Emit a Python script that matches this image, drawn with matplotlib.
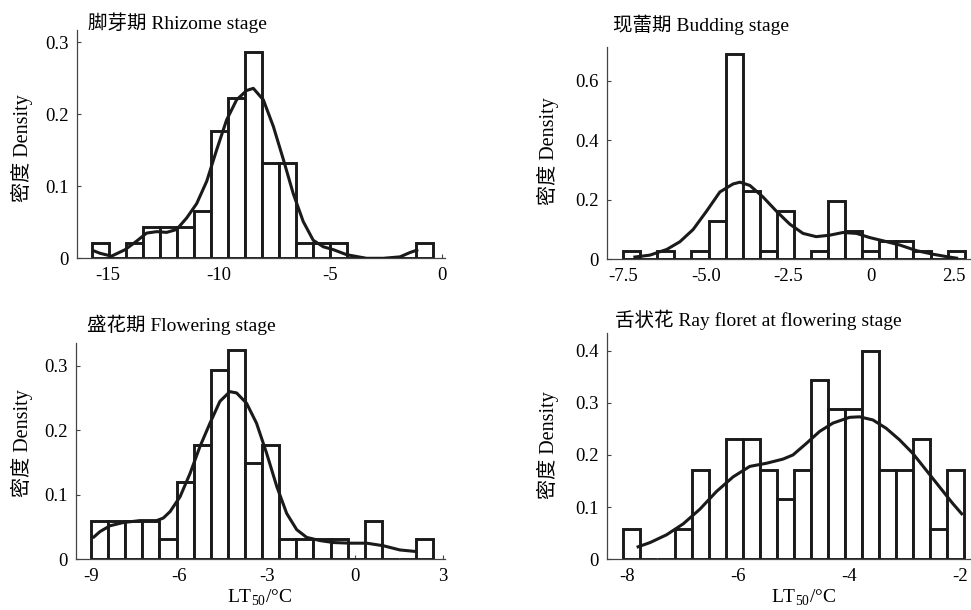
import numpy as np
import matplotlib.pyplot as plt

plt.rcParams['font.family'] = ['Liberation Serif', 'Noto Sans CJK SC']
plt.rcParams['axes.unicode_minus'] = False

# ---- 脚芽期 Rhizome stage
rh_edges = (-15.70, -0.40)
rh_dens = [0.021, 0, 0.021, 0.043, 0.043, 0.043, 0.066, 0.177, 0.222, 0.287,
           0.132, 0.132, 0.021, 0.021, 0.021, 0, 0, 0, 0, 0.021]
rh_kx = [-15.66, -15.33, -14.81, -14.2, -13.68, -13.24, -12.79, -12.34, -11.89, -11.44,
         -10.99, -10.54, -10.09, -9.65, -9.2, -8.75, -8.45, -8.0, -7.55, -7.1,
         -6.66, -6.21, -5.76, -5.31, -4.86, -4.26, -3.37, -2.62, -1.87, -1.42, -1.05]
rh_ky = [0.011, 0.007, 0.003, 0.012, 0.024, 0.035, 0.037, 0.036, 0.040, 0.056,
         0.076, 0.107, 0.151, 0.192, 0.220, 0.233, 0.236, 0.220, 0.183, 0.137,
         0.090, 0.051, 0.025, 0.016, 0.012, 0.005, 0.0, 0.0, 0.002, 0.008, 0.012]

# ---- 现蕾期 Budding stage
bu_edges = (-7.51, 2.84)
bu_dens = [0.029, 0, 0.029, 0, 0.029, 0.129, 0.69, 0.229, 0.029, 0.162,
           0, 0.029, 0.195, 0.096, 0.029, 0.062, 0.062, 0.029, 0, 0.029]
bu_kx = [-7.20, -6.70, -6.19, -5.79, -5.39, -4.98, -4.58, -4.18, -3.97, -3.67,
         -3.27, -2.87, -2.46, -2.06, -1.66, -1.25, -0.85, -0.44, -0.04, 0.37,
         0.87, 1.38, 1.88, 2.29, 2.64]
bu_ky = [0.007, 0.014, 0.033, 0.059, 0.100, 0.162, 0.226, 0.253, 0.259, 0.248,
         0.209, 0.162, 0.118, 0.087, 0.076, 0.081, 0.090, 0.087, 0.073, 0.062,
         0.048, 0.029, 0.017, 0.009, 0.003]

# ---- 盛花期 Flowering stage
fl_edges = (-9.01, 2.67)
fl_dens = [0.0595, 0.0595, 0.0595, 0.0595, 0.031, 0.1195, 0.178, 0.294, 0.324, 0.149,
           0.177, 0.031, 0.031, 0.031, 0.031, 0, 0.0595, 0, 0, 0.031]
fl_kx = [-8.95, -8.70, -8.36, -7.91, -7.34, -6.77, -6.54, -6.31, -5.97, -5.63,
         -5.29, -4.95, -4.61, -4.27, -4.04, -3.70, -3.36, -3.02, -2.67, -2.33,
         -1.99, -1.65, -1.19, -0.74, -0.17, 0.40, 0.97, 1.53, 2.10]
fl_ky = [0.033, 0.043, 0.052, 0.057, 0.060, 0.060, 0.064, 0.074, 0.097, 0.133,
         0.175, 0.211, 0.245, 0.260, 0.258, 0.242, 0.211, 0.165, 0.113, 0.071,
         0.046, 0.034, 0.029, 0.026, 0.025, 0.025, 0.021, 0.0145, 0.012]

# ---- 舌状花 Ray floret at flowering stage
ra_edges = (-8.07, -1.92)
ra_dens = [0.058, 0, 0, 0.058, 0.171, 0, 0.231, 0.231, 0.171, 0.115,
           0.171, 0.344, 0.2875, 0.2875, 0.40, 0.171, 0.171, 0.231, 0.058, 0.171]
ra_kx = [-7.83, -7.59, -7.29, -6.99, -6.69, -6.39, -6.09, -5.79, -5.49, -5.19,
         -5.01, -4.77, -4.53, -4.29, -3.99, -3.81, -3.57, -3.33, -3.09, -2.85,
         -2.61, -2.37, -2.13, -1.95]
ra_ky = [0.023, 0.032, 0.047, 0.068, 0.096, 0.130, 0.158, 0.178, 0.184, 0.192,
         0.200, 0.222, 0.245, 0.261, 0.272, 0.273, 0.267, 0.251, 0.229, 0.203,
         0.171, 0.139, 0.107, 0.085]

W, H = 971, 610
fig = plt.figure(figsize=(W / 100, H / 100), dpi=100)


def px_rect(l, t, r, b):
    return [l / W, 1 - b / H, (r - l) / W, (b - t) / H]


def panel(rect, edges, dens, kx, ky, xlim, ylim, xt, xtl, yt, ytl):
    ax = fig.add_axes(rect)
    e = np.linspace(edges[0], edges[1], len(dens) + 1)
    ax.bar(e[:-1], dens, width=np.diff(e), align='edge', color='white',
           edgecolor='#1a1a1a', linewidth=2.1, zorder=2)
    ax.plot(kx, ky, color='#1a1a1a', lw=2.2, zorder=3,
            solid_joinstyle='round', solid_capstyle='butt')
    ax.set_xlim(*xlim)
    ax.set_ylim(*ylim)
    ax.set_xticks(xt)
    ax.set_xticklabels(xtl)
    ax.set_yticks(yt)
    ax.set_yticklabels(ytl)
    for s in ['top', 'right']:
        ax.spines[s].set_visible(False)
    for s in ['left', 'bottom']:
        ax.spines[s].set_color('#444444')
        ax.spines[s].set_linewidth(0.9)
    ax.tick_params(direction='in', length=3, width=0.8, color='#444444',
                   labelsize=13.5, pad=6)
    ax.patch.set_alpha(0)
    return ax


panel(px_rect(77, 30, 445, 258.3), rh_edges, rh_dens, rh_kx, rh_ky,
      (-16.36, 0.15), (0, 0.317),
      [-15, -10, -5, 0], ['-15', '-10', '-5', '0'],
      [0, 0.1, 0.2, 0.3], ['0', '0.1', '0.2', '0.3'])
panel(px_rect(607.3, 46.7, 970, 259.3), bu_edges, bu_dens, bu_kx, bu_ky,
      (-7.99, 3.0), (0, 0.714),
      [-7.5, -5.0, -2.5, 0, 2.5], ['-7.5', '-5.0', '-2.5', '0', '2.5'],
      [0, 0.2, 0.4, 0.6], ['0', '0.2', '0.4', '0.6'])
panel(px_rect(76, 343.3, 445, 559.3), fl_edges, fl_dens, fl_kx, fl_ky,
      (-9.52, 3.07), (0, 0.335),
      [-9, -6, -3, 0, 3], ['-9', '-6', '-3', '0', '3'],
      [0, 0.1, 0.2, 0.3], ['0', '0.1', '0.2', '0.3'])
panel(px_rect(607.3, 333.3, 971, 559.3), ra_edges, ra_dens, ra_kx, ra_ky,
      (-8.36, -1.80), (0, 0.433),
      [-8, -6, -4, -2], ['-8', '-6', '-4', '-2'],
      [0, 0.1, 0.2, 0.3, 0.4], ['0', '0.1', '0.2', '0.3', '0.4'])

titles = [(88, 23, '脚芽期 Rhizome stage'),
          (613, 25, '现蕾期 Budding stage'),
          (87, 325, '盛花期 Flowering stage'),
          (615, 320, '舌状花 Ray floret at flowering stage')]
for x, y, t in titles:
    fig.text(x / W, 1 - y / H, t, ha='left', va='center', fontsize=14)

for x, y in [(22, 148), (548, 151), (22, 443), (548, 445)]:
    fig.text(x / W, 1 - y / H, '密度 Density', rotation=90,
             ha='center', va='center', fontsize=14.5)

for x in [260, 804]:
    fig.text(x / W, 1 - 598 / H, 'LT$_{\\mathregular{50}}$/°C',
             ha='center', va='center', fontsize=14)

fig.savefig('out.png', dpi=100)
